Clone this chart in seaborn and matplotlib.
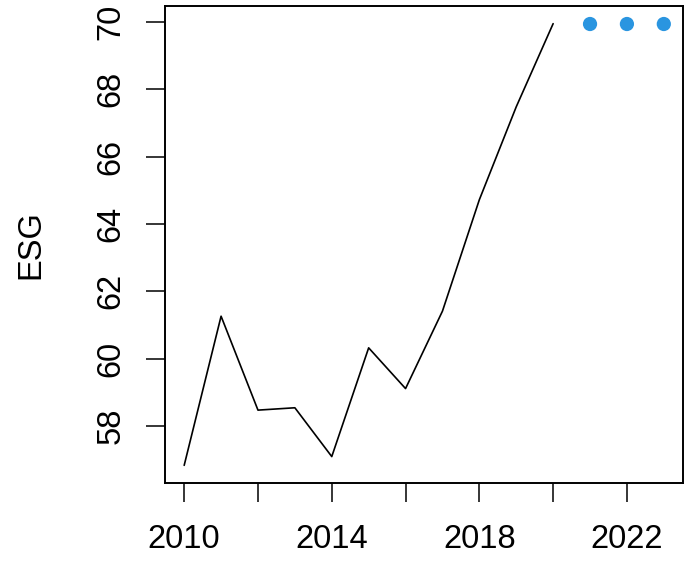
import numpy as np
import pandas as pd
import matplotlib
matplotlib.use("Agg")
import matplotlib.pyplot as plt
import seaborn as sns

# observed ESG values (line) and forecast values (points)
years = [2010, 2011, 2012, 2013, 2014, 2015, 2016, 2017, 2018, 2019, 2020]
esg = [56.83, 61.26, 58.47, 58.54, 57.09, 60.32, 59.11, 61.41, 64.72, 67.48, 69.95]
future_years = [2021, 2022, 2023]
future_esg = [69.94, 69.94, 69.94]

xticks = [2010, 2012, 2014, 2016, 2018, 2020, 2022]
yticks = [58, 60, 62, 64, 66, 68, 70]

sns.set_style("white")
plt.rcParams['font.family'] = ['Liberation Sans', 'DejaVu Sans']

df = pd.DataFrame({"year": years, "ESG": esg})
df_future = pd.DataFrame({"year": future_years, "ESG": future_esg})

fig = plt.figure(figsize=(6.85, 5.72), dpi=100)
ax = fig.add_axes([165 / 685, 1 - 483 / 572, 518 / 685, 477 / 572])

sns.lineplot(data=df, x="year", y="ESG", ax=ax, color="black", linewidth=1.2)
sns.scatterplot(data=df_future, x="year", y="ESG", ax=ax, color="#2A95E0",
                s=105, edgecolor="none")

# R style ranges: data range padded by 4%
allx = years + future_years
ally = esg + future_esg
xpad = (max(allx) - min(allx)) * 0.04
ypad = (max(ally) - min(ally)) * 0.04
ax.set_xlim(min(allx) - xpad, max(allx) + xpad)
ax.set_ylim(min(ally) - ypad, max(ally) + ypad)

ax.set_xticks(xticks)
ax.set_xticklabels(["2010", "", "2014", "", "2018", "", "2022"])
ax.set_yticks(yticks)
ax.set_yticklabels([str(v) for v in yticks], rotation=90, va="center")

ax.tick_params(axis="both", which="major", length=13.7, width=1.1,
               pad=14, labelsize=23.5, color="black", labelcolor="black",
               left=True, bottom=True)
ax.tick_params(axis="x", pad=16)

for sp in ax.spines.values():
    sp.set_visible(True)
    sp.set_color("black")
    sp.set_linewidth(1.4)

ax.set_xlabel("")
ax.set_ylabel("ESG", fontsize=23.5, color="black")
ax.yaxis.set_label_coords((46 - 165) / 518, 0.5)

fig.savefig("out.png", dpi=100)
